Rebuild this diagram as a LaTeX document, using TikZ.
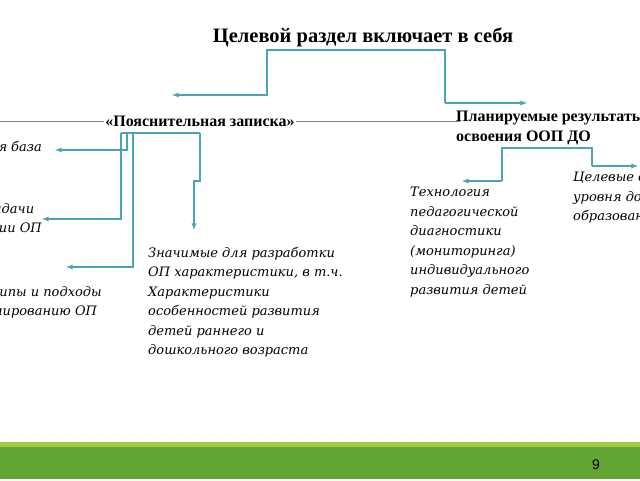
\documentclass[tikz,border=0pt]{standalone}
\usepackage{fontspec}
\setmainfont{Liberation Serif}
\newfontfamily\itfont{DejaVu Serif}
\newfontfamily\numfont{Liberation Sans}
\definecolor{ln}{HTML}{4BA3B3}
\definecolor{band}{HTML}{62A534}
\definecolor{stripe}{HTML}{A2CB45}
\begin{document}
\begin{tikzpicture}[x=1pt,y=-1pt,
  conn/.style={draw=ln,line width=1.3pt,-latex},
  hd/.style={font=\bfseries\fontsize{16}{19.5}\selectfont,inner sep=0pt},
  it/.style={font=\itfont\itshape\fontsize{13}{19.5}\selectfont,inner sep=0pt,align=left}]
\useasboundingbox (0,0) rectangle (640,480);
\fill[white] (0,0) rectangle (640,480);
\fill[band] (0,446) rectangle (640,479);
\fill[stripe] (0,442) rectangle (640,447);
\node[font=\numfont\fontsize{14}{14}\selectfont] (num) at (596,465) {9};
\draw[gray,line width=0.5pt] (0,121) -- (460,121);
\node[hd,font=\bfseries\fontsize{20.5}{22}\selectfont] (title) at (363,37) {Целевой раздел включает в себя};
\node[hd,fill=white,inner xsep=1pt,anchor=center] (pz) at (200,121) {«Пояснительная записка»};
\node[hd,anchor=north west,align=left] (pr) at (456,111) {Планируемые результаты\\освоения ООП ДО};
\coordinate (a1) at (172,95); \coordinate (a2) at (527,103);
\draw[conn] (445,103) -- (445,50) -- (267,50) -- (267,95) -- (a1);
\draw[conn] (445,103) -- (a2);
\node[it,anchor=east] (t1) at (42,148) {Нормативно-правовая база};
\node[it,anchor=north east] (t2) at (42,203) {Цели и задачи\\реализации ОП};
\node[it,anchor=north east] (t3) at (102,286) {Принципы и подходы\\к формированию ОП};
\node[it,anchor=north west] (t4) at (148,247) {Значимые для разработки\\ОП характеристики, в т.ч.\\Характеристики\\особенностей развития\\детей раннего и\\дошкольного возраста};
\node[it,anchor=north west] (t5) at (410,187) {Технология\\педагогической\\диагностики\\(мониторинга)\\индивидуального\\развития детей};
\node[it,anchor=north west] (t6) at (573,172) {Целевые ориентиры\\уровня дошкольного\\образования};
\draw[draw=ln,line width=1.3pt] (121,133) -- (200,133);
\draw[conn] (127,133) -- (127,150) -- (55,150);
\draw[conn] (121,133) -- (121,219) -- (42,219);
\draw[conn] (133,133) -- (133,267) -- (66,267);
\draw[conn] (200,133) -- (200,181) -- (194,181) -- (194,230);
\draw[draw=ln,line width=1.3pt] (502,181) -- (502,148) -- (592,148) -- (592,166);
\draw[conn] (502,181) -- (462,181);
\draw[conn] (592,166) -- (638,166);
\end{tikzpicture}
\end{document}
